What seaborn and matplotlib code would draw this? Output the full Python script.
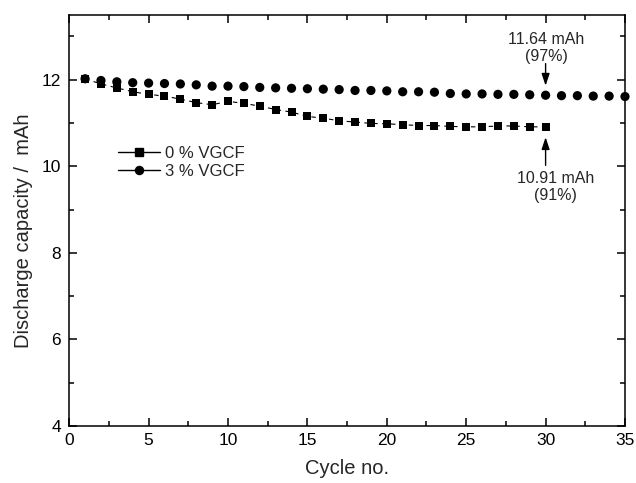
import numpy as np
import pandas as pd
import seaborn as sns
import matplotlib
matplotlib.use("Agg")
import matplotlib.pyplot as plt
from matplotlib.lines import Line2D
from matplotlib.ticker import MultipleLocator

# ---- data ----
cycles_0 = list(range(1, 31))
cap_0 = [12.02, 11.90, 11.81, 11.72, 11.66, 11.62, 11.55, 11.47, 11.42, 11.50,
         11.45, 11.39, 11.31, 11.25, 11.15, 11.11, 11.05, 11.02, 10.99, 10.98,
         10.96, 10.94, 10.94, 10.92, 10.91, 10.91, 10.93, 10.93, 10.91, 10.91]
cycles_3 = list(range(1, 36))
cap_3 = [12.02, 11.98, 11.95, 11.93, 11.92, 11.91, 11.90, 11.88, 11.85, 11.85,
         11.84, 11.82, 11.81, 11.80, 11.79, 11.78, 11.77, 11.75, 11.75, 11.74,
         11.72, 11.72, 11.71, 11.68, 11.67, 11.67, 11.66, 11.66, 11.65, 11.64,
         11.63, 11.63, 11.62, 11.62, 11.61]
labels = ["0 % VGCF", "3 % VGCF"]
ann_text = ["11.64 mAh\n(97%)", "10.91 mAh\n(91%)"]

df0 = pd.DataFrame({"cycle": cycles_0, "cap": cap_0})
df3 = pd.DataFrame({"cycle": cycles_3, "cap": cap_3})

sns.set_theme(style="ticks")
plt.rcParams['font.family'] = ['Liberation Sans', 'DejaVu Sans']

fig = plt.figure(figsize=(6.36, 4.83), dpi=100)
ax = fig.add_axes([69.2/636, 1-426/483, (625-69.2)/636, (426-14.7)/483])

sns.scatterplot(data=df3, x="cycle", y="cap", ax=ax, color="black",
                marker="o", s=44, edgecolor="none", clip_on=False, zorder=3)
sns.lineplot(data=df0, x="cycle", y="cap", ax=ax, color="black",
             linewidth=0.8, linestyle=(0, (4, 4)), marker="s", markersize=5.4,
             markeredgewidth=0, markerfacecolor="black", zorder=4)

ax.set_xlim(0, 35)
ax.set_ylim(4, 13.5)
ax.xaxis.set_major_locator(MultipleLocator(5))
ax.xaxis.set_minor_locator(MultipleLocator(2.5))
ax.yaxis.set_major_locator(MultipleLocator(2))
ax.yaxis.set_minor_locator(MultipleLocator(1))
ax.tick_params(which="both", direction="in", top=True, right=True,
               labelsize=12.5, colors="black", width=1.1)
ax.tick_params(which="major", length=6)
ax.tick_params(which="minor", length=3.5)
ax.tick_params(axis="x", which="both", pad=5)
ax.tick_params(axis="y", which="both", pad=6)
for sp in ax.spines.values():
    sp.set_visible(True)
    sp.set_linewidth(1.1)
    sp.set_color("black")

ax.set_xlabel("Cycle no.", fontsize=14.5, labelpad=8)
ax.set_ylabel("Discharge capacity /  mAh", fontsize=14.5, labelpad=8)
ax.yaxis.set_label_coords(-0.066, 0.474)

handles = [Line2D([], [], color="black", lw=1.0, marker="s", markersize=5.6),
           Line2D([], [], color="black", lw=1.0, marker="o", markersize=5.8)]
fig.legend(handles, labels, loc="center left",
           bbox_to_anchor=(118/636, 1-162.5/483), bbox_transform=fig.transFigure,
           frameon=False, fontsize=12, handlelength=2.5, handletextpad=0.3,
           labelspacing=0.2, borderpad=0, borderaxespad=0)

arrow_kw = dict(arrowstyle="-|>,head_length=0.6,head_width=0.2", color="black",
                lw=1.0, mutation_scale=12, shrinkA=0, shrinkB=0)
# 3 % VGCF annotation
ax.annotate("", xy=(30, 11.86), xytext=(30, 12.37), arrowprops=arrow_kw)
ax.text(30.05, 12.37, ann_text[0], ha="center", va="bottom",
        fontsize=11.5, linespacing=1.1)
# 0 % VGCF annotation
ax.annotate("", xy=(30, 10.67), xytext=(30, 10.02), arrowprops=arrow_kw)
ax.text(30.6, 9.88, ann_text[1], ha="center", va="top",
        fontsize=11.5, linespacing=1.1)

fig.savefig("out.png", dpi=100)
